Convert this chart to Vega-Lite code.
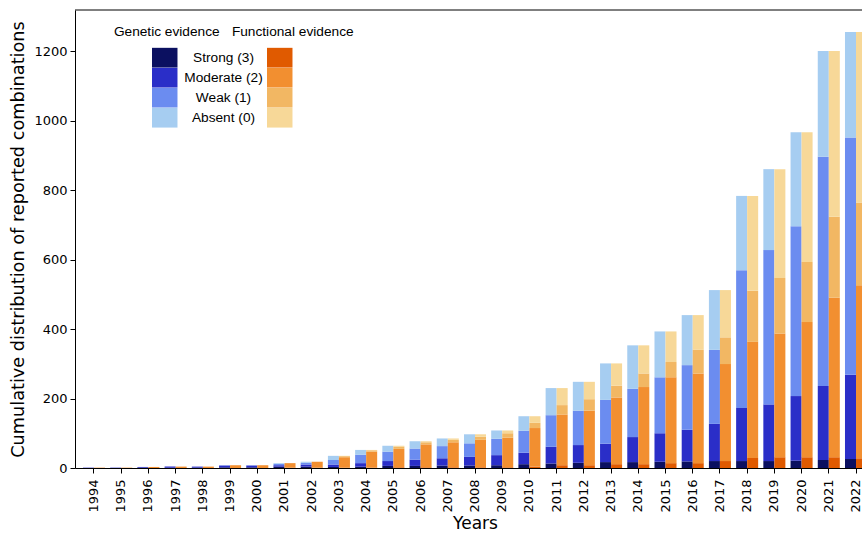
{
  "$schema": "https://vega.github.io/schema/vega-lite/v6.json",
  "width": 787,
  "height": 458,
  "autosize": {"type": "none"},
  "padding": {"left": 75, "top": 10, "right": 0, "bottom": 65},
  "background": "white",
  "config": {"view": {"stroke": null}, "font": "DejaVu Sans"},
  "datasets": {
    "counts": [
      {"year":"1994","evidence":"Genetic","S":0,"M":1,"W":0,"A":0},
      {"year":"1995","evidence":"Genetic","S":0,"M":1,"W":0,"A":0},
      {"year":"1996","evidence":"Genetic","S":1,"M":2,"W":0,"A":0},
      {"year":"1997","evidence":"Genetic","S":1,"M":3,"W":0,"A":0},
      {"year":"1998","evidence":"Genetic","S":1,"M":3,"W":0,"A":0},
      {"year":"1999","evidence":"Genetic","S":2,"M":5,"W":1,"A":0},
      {"year":"2000","evidence":"Genetic","S":2,"M":5,"W":1,"A":0},
      {"year":"2001","evidence":"Genetic","S":4,"M":4,"W":4,"A":2},
      {"year":"2002","evidence":"Genetic","S":4,"M":6,"W":5,"A":3},
      {"year":"2003","evidence":"Genetic","S":3,"M":7,"W":13,"A":12},
      {"year":"2004","evidence":"Genetic","S":4,"M":10,"W":24,"A":14},
      {"year":"2005","evidence":"Genetic","S":6,"M":14,"W":27,"A":17},
      {"year":"2006","evidence":"Genetic","S":6,"M":18,"W":32,"A":21},
      {"year":"2007","evidence":"Genetic","S":7,"M":21,"W":35,"A":22},
      {"year":"2008","evidence":"Genetic","S":7,"M":25,"W":39,"A":26},
      {"year":"2009","evidence":"Genetic","S":8,"M":29,"W":47,"A":24},
      {"year":"2010","evidence":"Genetic","S":11,"M":33,"W":63,"A":42},
      {"year":"2011","evidence":"Genetic","S":13,"M":48,"W":91,"A":78},
      {"year":"2012","evidence":"Genetic","S":15,"M":51,"W":99,"A":83},
      {"year":"2013","evidence":"Genetic","S":17,"M":53,"W":126,"A":105},
      {"year":"2014","evidence":"Genetic","S":17,"M":72,"W":139,"A":125},
      {"year":"2015","evidence":"Genetic","S":18,"M":82,"W":161,"A":132},
      {"year":"2016","evidence":"Genetic","S":19,"M":91,"W":186,"A":144},
      {"year":"2017","evidence":"Genetic","S":20,"M":107,"W":213,"A":172},
      {"year":"2018","evidence":"Genetic","S":20,"M":153,"W":396,"A":214},
      {"year":"2019","evidence":"Genetic","S":20,"M":163,"W":444,"A":233},
      {"year":"2020","evidence":"Genetic","S":21,"M":186,"W":489,"A":270},
      {"year":"2021","evidence":"Genetic","S":23,"M":213,"W":660,"A":304},
      {"year":"2022","evidence":"Genetic","S":26,"M":242,"W":683,"A":304},
      {"year":"1994","evidence":"Functional","S":0,"M":1,"W":0,"A":0},
      {"year":"1995","evidence":"Functional","S":0,"M":1,"W":0,"A":0},
      {"year":"1996","evidence":"Functional","S":0,"M":3,"W":0,"A":0},
      {"year":"1997","evidence":"Functional","S":0,"M":4,"W":0,"A":0},
      {"year":"1998","evidence":"Functional","S":0,"M":4,"W":0,"A":0},
      {"year":"1999","evidence":"Functional","S":0,"M":8,"W":0,"A":0},
      {"year":"2000","evidence":"Functional","S":0,"M":8,"W":0,"A":0},
      {"year":"2001","evidence":"Functional","S":1,"M":13,"W":0,"A":0},
      {"year":"2002","evidence":"Functional","S":1,"M":17,"W":0,"A":0},
      {"year":"2003","evidence":"Functional","S":1,"M":30,"W":3,"A":1},
      {"year":"2004","evidence":"Functional","S":1,"M":46,"W":4,"A":1},
      {"year":"2005","evidence":"Functional","S":2,"M":53,"W":6,"A":3},
      {"year":"2006","evidence":"Functional","S":2,"M":66,"W":6,"A":3},
      {"year":"2007","evidence":"Functional","S":2,"M":72,"W":7,"A":4},
      {"year":"2008","evidence":"Functional","S":2,"M":79,"W":9,"A":7},
      {"year":"2009","evidence":"Functional","S":2,"M":85,"W":13,"A":8},
      {"year":"2010","evidence":"Functional","S":4,"M":111,"W":15,"A":19},
      {"year":"2011","evidence":"Functional","S":8,"M":146,"W":27,"A":49},
      {"year":"2012","evidence":"Functional","S":8,"M":157,"W":33,"A":50},
      {"year":"2013","evidence":"Functional","S":11,"M":192,"W":34,"A":64},
      {"year":"2014","evidence":"Functional","S":11,"M":222,"W":39,"A":81},
      {"year":"2015","evidence":"Functional","S":14,"M":247,"W":44,"A":88},
      {"year":"2016","evidence":"Functional","S":14,"M":258,"W":68,"A":100},
      {"year":"2017","evidence":"Functional","S":20,"M":279,"W":77,"A":136},
      {"year":"2018","evidence":"Functional","S":29,"M":334,"W":147,"A":273},
      {"year":"2019","evidence":"Functional","S":31,"M":356,"W":160,"A":313},
      {"year":"2020","evidence":"Functional","S":31,"M":389,"W":173,"A":373},
      {"year":"2021","evidence":"Functional","S":31,"M":459,"W":233,"A":477},
      {"year":"2022","evidence":"Functional","S":28,"M":498,"W":238,"A":491}
    ],
    "levels": [
      {"k":"S","level":"Strong (3)","score":3},
      {"k":"M","level":"Moderate (2)","score":2},
      {"k":"W","level":"Weak (1)","score":1},
      {"k":"A","level":"Absent (0)","score":0}
    ]
  },
  "layer": [
    {
      "data": {"name": "counts"},
      "transform": [
        {"fold": ["S", "M", "W", "A"], "as": ["k", "count"]},
        {"lookup": "k", "from": {"data": {"name": "levels"}, "key": "k", "fields": ["level", "score"]}}
      ],
      "encoding": {
        "x": {
          "field": "year", "type": "ordinal",
          "scale": {"range": [0, 800], "paddingInner": 0.19, "paddingOuter": 0.293},
          "axis": {
            "title": "Years", "titleFontSize": 17, "titleFontWeight": "normal", "titleColor": "black",
            "titlePadding": 3, "labelAngle": -90, "labelFontSize": 13, "labelColor": "black",
            "labelPadding": 6, "tickSize": 5, "tickColor": "black", "domainColor": "black"
          }
        },
        "xOffset": {"field": "evidence", "type": "nominal", "scale": {"domain": ["Genetic", "Functional"], "paddingInner": 0, "paddingOuter": 0}},
        "y": {
          "field": "count", "type": "quantitative", "stack": "zero",
          "scale": {"domain": [0, 1318], "nice": false},
          "axis": {
            "title": "Cumulative distribution of reported combinations", "titleFontSize": 17.7,
            "titleFontWeight": "normal", "titleColor": "black", "titlePadding": 6,
            "values": [0, 200, 400, 600, 800, 1000, 1200], "format": "d", "grid": false,
            "labelFontSize": 13, "labelColor": "black", "labelPadding": 3,
            "tickSize": 5, "tickColor": "black", "domainColor": "black"
          }
        },
        "order": {"field": "score", "sort": "descending"}
      },
      "layer": [
        {
          "transform": [{"filter": "datum.evidence === 'Genetic'"}],
          "mark": {"type": "bar"},
          "encoding": {
            "color": {
              "field": "level", "type": "nominal",
              "scale": {"domain": ["Strong (3)", "Moderate (2)", "Weak (1)", "Absent (0)"], "range": ["#0b1060", "#2a2ec8", "#6b8cf0", "#a6cdf1"]},
              "legend": {
                "title": "Genetic evidence", "orient": "none", "legendX": 38.75, "legendY": 15,
                "direction": "vertical", "symbolType": "M-1.29,-1H1.29V1H-1.29Z", "symbolSize": 390,
                "symbolStrokeWidth": 0, "symbolOpacity": 1, "rowPadding": 0, "labelExpr": "''",
                "titleFont": "Liberation Sans", "titleFontSize": 13.7, "titleFontWeight": "normal",
                "titleColor": "black", "titleAnchor": "middle", "titleAlign": "center", "titlePadding": 9
              }
            }
          }
        },
        {
          "transform": [{"filter": "datum.evidence === 'Functional'"}],
          "mark": {"type": "bar"},
          "encoding": {
            "color": {
              "field": "level", "type": "nominal",
              "scale": {"domain": ["Strong (3)", "Moderate (2)", "Weak (1)", "Absent (0)"], "range": ["#e05a00", "#f28f30", "#f2b763", "#f7d898"]},
              "legend": {
                "title": "Functional evidence", "orient": "none", "legendX": 156.75, "legendY": 15,
                "direction": "vertical", "symbolType": "M-1.29,-1H1.29V1H-1.29Z", "symbolSize": 390,
                "symbolStrokeWidth": 0, "symbolOpacity": 1, "rowPadding": 0,
                "labelFont": "Liberation Sans", "labelFontSize": 13.7, "labelColor": "black",
                "labelAlign": "center", "labelOffset": -66.25,
                "titleFont": "Liberation Sans", "titleFontSize": 13.7, "titleFontWeight": "normal",
                "titleColor": "black", "titleAnchor": "end", "titleAlign": "center", "titlePadding": 9
              }
            }
          }
        }
      ],
      "resolve": {"scale": {"color": "independent"}}
    },
    {
      "data": {"values": [{}]},
      "mark": {"type": "rule", "color": "black", "strokeWidth": 1},
      "encoding": {"y": {"datum": 1318, "type": "quantitative"}}
    }
  ]
}
